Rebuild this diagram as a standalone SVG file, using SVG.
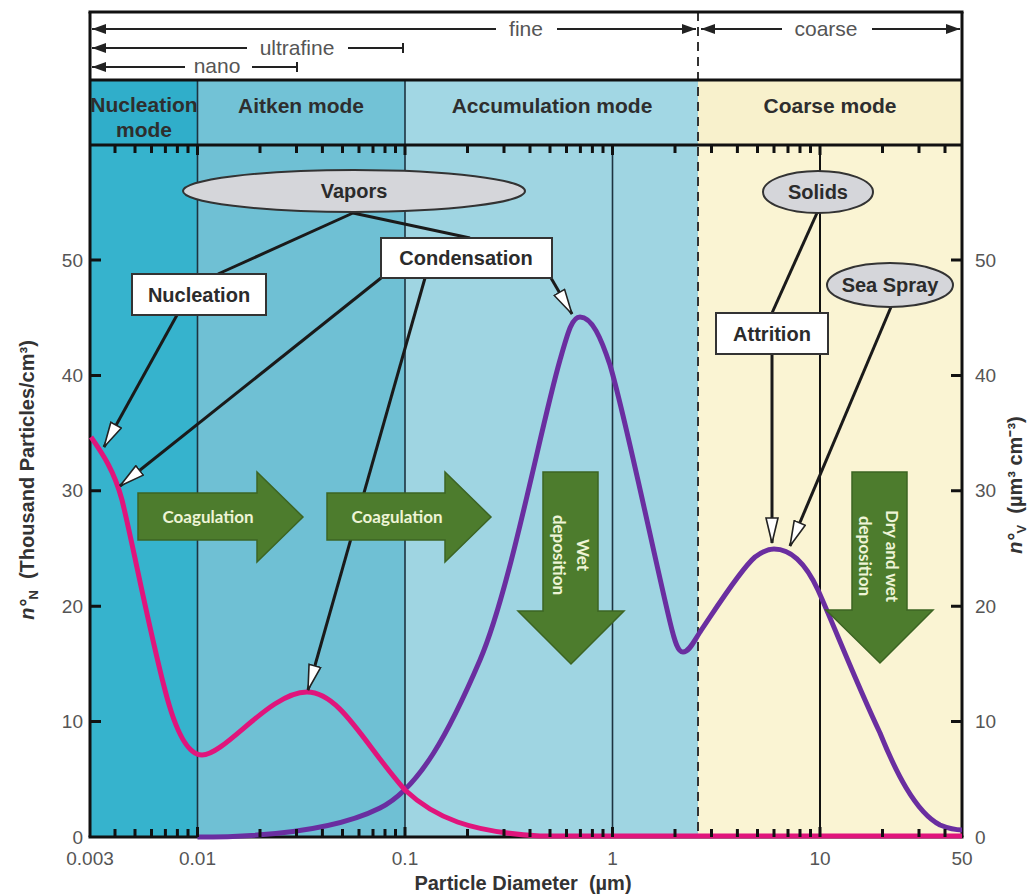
<svg xmlns="http://www.w3.org/2000/svg" width="1029" height="895" viewBox="0 0 1029 895">
<defs>
<style>
.frame{stroke:#111;stroke-width:3;fill:none}
.grid{stroke:#1d3340;stroke-width:1.6}
.tick{stroke:#111;stroke-width:3}
.lbl{font-family:"Liberation Sans",Arial,sans-serif;font-size:19px;fill:#555}
.top{font-family:"Liberation Sans",Arial,sans-serif;font-size:21px;fill:#555}
.band{font-family:"Liberation Sans",Arial,sans-serif;font-size:21px;font-weight:bold;fill:#2e2e2e;text-anchor:middle}
.node{font-family:"Liberation Sans",Arial,sans-serif;font-size:20px;font-weight:bold;fill:#2b2b2b;text-anchor:middle}
.box{fill:#fff;stroke:#333;stroke-width:2}
.ell{fill:#d5d6da;stroke:#333;stroke-width:2}
.conn{stroke:#1a1a1a;stroke-width:3;fill:none}
.tarr{stroke:#222;stroke-width:2;fill:none}
.green{fill:#4d7c2d;stroke:#3c6423;stroke-width:1.5}
.gtxt{font-family:Lato,"Open Sans",sans-serif;font-size:17px;font-weight:bold;fill:#eef4d6;text-anchor:middle}
.ax{font-family:"Liberation Sans",Arial,sans-serif;font-size:20px;font-weight:bold;fill:#333;text-anchor:middle}
</style>
<marker id="open" viewBox="0 0 27 14" refX="26" refY="7" markerWidth="27" markerHeight="14" markerUnits="userSpaceOnUse" orient="auto">
<path d="M1,1 L26,7 L1,13 Z" fill="#fff" stroke="#222" stroke-width="1.6"/>
</marker>
<marker id="fill" viewBox="0 0 14 10" refX="14" refY="5" markerWidth="14" markerHeight="10" markerUnits="userSpaceOnUse" orient="auto-start-reverse">
<path d="M0,0 L14,5 L0,10 Z" fill="#222"/>
</marker>
</defs>

<g id="background">
<rect x="0" y="0" width="1029" height="895" fill="#fff"/>
<rect x="90" y="12" width="872" height="68" fill="#fff"/>
<rect x="90" y="80" width="107.5" height="65" fill="#30aeca"/>
<rect x="197.5" y="80" width="207.5" height="65" fill="#72c2d6"/>
<rect x="405" y="80" width="293" height="65" fill="#a2d7e4"/>
<rect x="698" y="80" width="264" height="65" fill="#f8f1cc"/>
<rect x="90" y="145" width="107.5" height="692" fill="#36b3cd"/>
<rect x="197.5" y="145" width="207.5" height="692" fill="#6fc0d4"/>
<rect x="405" y="145" width="293" height="692" fill="#9fd5e2"/>
<rect x="698" y="145" width="264" height="692" fill="#faf4d3"/>
</g>

<g id="gridlines">
<line class="grid" x1="197.5" y1="80" x2="197.5" y2="837"/>
<line class="grid" x1="405" y1="80" x2="405" y2="837"/>
<line class="grid" x1="612.5" y1="145" x2="612.5" y2="837"/>
<line x1="820" y1="145" x2="820" y2="837" stroke="#111" stroke-width="2"/>
<line x1="698" y1="12" x2="698" y2="837" stroke="#333" stroke-width="2" stroke-dasharray="9,6"/>
</g>

<g id="frame">
<line class="frame" x1="88.5" y1="12" x2="963.5" y2="12"/>
<line class="frame" x1="90" y1="80" x2="962" y2="80"/>
<line class="frame" x1="90" y1="145" x2="962" y2="145"/>
<line class="frame" x1="88.5" y1="837" x2="963.5" y2="837"/>
<line class="frame" x1="90" y1="12" x2="90" y2="837"/>
<line class="frame" x1="962" y1="12" x2="962" y2="837"/>
</g>

<g id="axis-labels">
<g class="lbl" text-anchor="end">
<text x="83" y="844">0</text>
<text x="83" y="728">10</text>
<text x="83" y="613">20</text>
<text x="83" y="497">30</text>
<text x="83" y="382">40</text>
<text x="83" y="267">50</text>
</g>
<g class="lbl" text-anchor="start">
<text x="975" y="844">0</text>
<text x="975" y="728">10</text>
<text x="975" y="613">20</text>
<text x="975" y="497">30</text>
<text x="975" y="382">40</text>
<text x="975" y="267">50</text>
</g>
<g class="lbl" text-anchor="middle">
<text x="90" y="865">0.003</text>
<text x="197.5" y="865">0.01</text>
<text x="405" y="865">0.1</text>
<text x="612.5" y="865">1</text>
<text x="820" y="865">10</text>
<text x="962" y="865">50</text>
</g>
<text class="ax" x="523" y="890">Particle Diameter&#160; (µm)</text>
<text class="ax" font-size="22" transform="translate(34,480) rotate(-90)"><tspan font-style="italic">n°</tspan><tspan font-size="13" dy="4">N</tspan><tspan dy="-4">&#160;&#160;(Thousand Particles/cm³)</tspan></text>
<text class="ax" font-size="22" transform="translate(1022,485) rotate(-90)"><tspan font-style="italic">n°</tspan><tspan font-size="13" dy="4">V</tspan><tspan dy="-4">&#160;&#160;(µm³ cm⁻³)</tspan></text>
</g>

<g id="size-ranges">
<line class="tarr" x1="92" y1="29" x2="496" y2="29" marker-start="url(#fill)"/>
<line class="tarr" x1="557" y1="29" x2="696" y2="29" marker-end="url(#fill)"/>
<text class="top" x="526" y="36" text-anchor="middle">fine</text>
<line class="tarr" x1="701" y1="29" x2="782" y2="29" marker-start="url(#fill)"/>
<line class="tarr" x1="872" y1="29" x2="960" y2="29" marker-end="url(#fill)"/>
<text class="top" x="826" y="36" text-anchor="middle">coarse</text>
<line class="tarr" x1="92" y1="48" x2="247" y2="48" marker-start="url(#fill)"/>
<path class="tarr" d="M348,48H403M403,43v10"/>
<text class="top" x="297" y="55" text-anchor="middle">ultrafine</text>
<line class="tarr" x1="92" y1="67" x2="185" y2="67" marker-start="url(#fill)"/>
<path class="tarr" d="M252,67H297M297,62v10"/>
<text class="top" x="217" y="73" text-anchor="middle">nano</text>
</g>

<g id="mode-labels">
<text class="band" x="144" y="112" font-size="19">Nucleation</text>
<text class="band" x="144" y="137" font-size="19">mode</text>
<text class="band" x="301" y="113">Aitken mode</text>
<text class="band" x="552" y="113">Accumulation mode</text>
<text class="band" x="830" y="113">Coarse mode</text>
</g>

<g id="curves">
<path d="M197.5,837 C280,837 340,828 380,808 C420,788 450,730 480,660 C510,590 540,430 560,360 C568,332 572,317 580,317 C592,317 601,338 610,365 C625,415 655,560 670,622 C675,643 678,652 683,652 C689,652 693,643 700,632 C715,610 740,570 755,557 C763,551 768,549 774,549 C790,549 805,562 818,590 C835,628 855,680 880,733 C895,770 915,812 940,825 C950,829 957,830 962,830" fill="none" stroke="#6a2ea0" stroke-width="5"/>
<path d="M91,437 C102,453 114,470 122,500 C132,540 148,625 165,690 C176,733 188,755 202,755 C225,755 270,692 307,692 C340,692 365,745 405,790 C435,818 470,832 540,836 L962,836" fill="none" stroke="#e0157c" stroke-width="5"/>
</g>

<g id="ticks">
<path class="tick" d="M115,837v-8M135,837v-8M151.5,837v-8M165.4,837v-8M177.4,837v-8M188,837v-8M197.5,837v-10M260,837v-8M296.5,837v-8M322.4,837v-8M342.5,837v-8M359,837v-8M373,837v-8M385,837v-8M395.5,837v-8M405,837v-10M467.5,837v-8M504,837v-8M530,837v-8M550,837v-8M566.5,837v-8M580.4,837v-8M592.4,837v-8M603,837v-8M612.5,837v-10M675,837v-8M711.5,837v-8M737.4,837v-8M757.5,837v-8M774,837v-8M788,837v-8M800,837v-8M810.5,837v-8M820,837v-10M882.5,837v-8M919,837v-8M945,837v-8"/>
<path class="tick" d="M115,145v8M135,145v8M151.5,145v8M165.4,145v8M177.4,145v8M188,145v8M197.5,145v10M260,145v8M296.5,145v8M322.4,145v8M342.5,145v8M359,145v8M373,145v8M385,145v8M395.5,145v8M405,145v10M467.5,145v8M504,145v8M530,145v8M550,145v8M566.5,145v8M580.4,145v8M592.4,145v8M603,145v8M612.5,145v10M675,145v8M711.5,145v8M737.4,145v8M757.5,145v8M774,145v8M788,145v8M800,145v8M810.5,145v8M820,145v10M882.5,145v8M919,145v8M945,145v8"/>
<path class="tick" d="M90,721.6h11M90,606.2h11M90,490.8h11M90,375.4h11M90,260h11M962,721.6h-11M962,606.2h-11M962,490.8h-11M962,375.4h-11M962,260h-11"/>
</g>

<g id="connectors">
<line class="conn" x1="353" y1="213" x2="218" y2="274"/>
<line class="conn" x1="353" y1="213" x2="470" y2="238"/>
<line class="conn" x1="177" y1="315" x2="104" y2="447" marker-end="url(#open)"/>
<line class="conn" x1="381" y1="278" x2="120" y2="486" marker-end="url(#open)"/>
<line class="conn" x1="425" y1="278" x2="308" y2="690" marker-end="url(#open)"/>
<line class="conn" x1="551" y1="278" x2="572" y2="314" marker-end="url(#open)"/>
<line class="conn" x1="817" y1="213" x2="772" y2="313"/>
<line class="conn" x1="772" y1="354" x2="772" y2="543" marker-end="url(#open)"/>
<line class="conn" x1="891" y1="307" x2="790" y2="546" marker-end="url(#open)"/>
</g>

<g id="vapors">
<ellipse class="ell" cx="354" cy="191" rx="171" ry="21"/>
<text class="node" x="354" y="198">Vapors</text>
</g>
<g id="nucleation">
<rect class="box" x="132" y="274" width="134" height="41"/>
<text class="node" x="199" y="302">Nucleation</text>
</g>
<g id="condensation">
<rect class="box" x="381" y="238" width="171" height="40"/>
<text class="node" x="466" y="265">Condensation</text>
</g>
<g id="solids">
<ellipse class="ell" cx="818" cy="192" rx="55" ry="21"/>
<text class="node" x="818" y="199">Solids</text>
</g>
<g id="sea-spray">
<ellipse class="ell" cx="890" cy="285" rx="63" ry="22"/>
<text class="node" x="890" y="292">Sea Spray</text>
</g>
<g id="attrition">
<rect class="box" x="716" y="313" width="112" height="41"/>
<text class="node" x="772" y="341">Attrition</text>
</g>

<g id="coagulation-1">
<path class="green" d="M138,493 L257,493 L257,472 L303,517 L257,562 L257,540 L138,540 Z"/>
<text class="gtxt" x="208" y="523">Coagulation</text>
</g>
<g id="coagulation-2">
<path class="green" d="M327,493 L445,493 L445,472 L491,517 L445,562 L445,540 L327,540 Z"/>
<text class="gtxt" x="397" y="523">Coagulation</text>
</g>
<g id="wet-deposition">
<path class="green" d="M543,472 L598,472 L598,611 L624,611 L571,664 L518,611 L543,611 Z"/>
<text class="gtxt" transform="translate(570,555) rotate(90)"><tspan x="0" y="-7">Wet</tspan><tspan x="0" y="17">deposition</tspan></text>
</g>
<g id="dry-wet-deposition">
<path class="green" d="M852,472 L907,472 L907,610 L933,610 L880,663 L826,610 L852,610 Z"/>
<text class="gtxt" transform="translate(880,556) rotate(90)"><tspan x="0" y="-6">Dry and wet</tspan><tspan x="0" y="21">deposition</tspan></text>
</g>
</svg>
